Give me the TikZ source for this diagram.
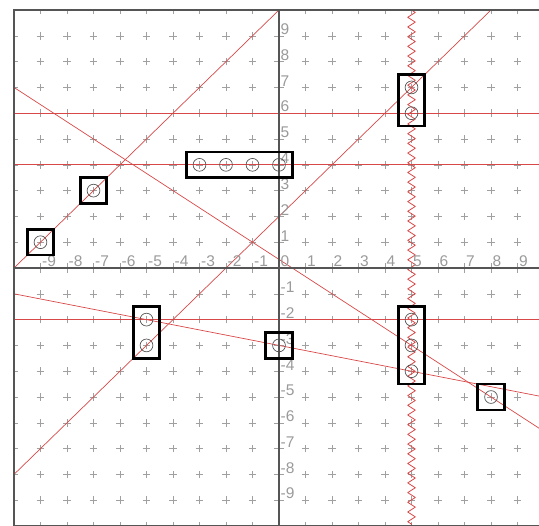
\documentclass[tikz,border=0pt]{standalone}
\usepackage{fontspec}
\setmainfont{Liberation Sans}
\usetikzlibrary{decorations.pathmorphing}
\definecolor{axisgray}{HTML}{555555}
\definecolor{gridgray}{HTML}{A0A0A0}
\definecolor{labelgray}{HTML}{9A9A9A}
\definecolor{plotred}{HTML}{D84848}
\begin{document}
\begin{tikzpicture}[x=26.5pt,y=25.8pt,
  crossmark/.style={gridgray,line width=0.55pt},
  tickmark/.style={gridgray,line width=0.6pt},
  redline/.style={plotred,line width=0.7pt},
  hredline/.style={plotred,line width=1.1pt},
  axisline/.style={axisgray,line width=2.4pt},
  ticklabel/.style={labelgray,font=\fontsize{15.5}{15.5}\selectfont,anchor=south west,inner sep=0pt,xshift=1.5pt,yshift=1pt},
  ptmark/.style={circle,draw=axisgray,line width=0.7pt,minimum size=12.8pt,inner sep=0pt},
  boxframe/.style={draw=black,line width=2.6pt}
]
\useasboundingbox (-10.528,-9.961) rectangle (9.811,10.388);
\begin{scope}
\clip (-10,-10) rectangle (10,10);
\foreach \i in {-10,...,10}{\foreach \j in {-10,...,10}{
  \draw[crossmark] (\i,\j) +(-3.8pt,0pt) -- +(3.8pt,0pt) +(0pt,-3.8pt) -- +(0pt,3.8pt);
}}
% axes
\coordinate (xl) at (-10,0); \coordinate (xr) at (10,0);
\coordinate (yb) at (0,-10); \coordinate (yt) at (0,10);
\foreach \k in {-9,...,9}{
  \draw[tickmark] (\k,0) +(0pt,-5pt) -- +(0pt,5pt);
  \draw[tickmark] (0,\k) +(-5pt,0pt) -- +(5pt,0pt);
}
% red lines
\coordinate (a1) at (-10,6); \coordinate (a2) at (10,6);
\coordinate (b1) at (-10,4); \coordinate (b2) at (10,4);
\coordinate (c1) at (-10,-2); \coordinate (c2) at (10,-2);
\coordinate (d1) at (-10,0); \coordinate (d2) at (0,10);
\coordinate (e1) at (-10,-8); \coordinate (e2) at (8,10);
\coordinate (f1) at (-10,7); \coordinate (f2) at (10,-6.3333);
\coordinate (g1) at (-10,-1); \coordinate (g2) at (10,-5);
\coordinate (s1) at (5,10); \coordinate (s2) at (5,-10);
\draw[hredline] (a1) -- (a2);
\draw[hredline] (b1) -- (b2);
\draw[hredline] (c1) -- (c2);
\draw[redline] (d1) -- (d2);
\draw[redline] (e1) -- (e2);
\draw[redline] (f1) -- (f2);
\draw[redline] (g1) -- (g2);
\draw[redline,line width=0.8pt,line join=round,decorate,decoration={zigzag,segment length=9.7pt,amplitude=3.8pt}] (s1) -- (s2);
\draw[axisline] (xl) -- (xr);
\draw[axisline] (yb) -- (yt);
\end{scope}
\draw[axisline] (-10,-10) rectangle (10,10);
% labels
\foreach \k in {-9,...,9}{
  \node[ticklabel] (lx\k) at (\k,0) {\k};
}
\foreach \k in {-9,...,-1,1,2,...,9}{
  \node[ticklabel] (ly\k) at (0,\k) {\k};
}
% points
\node[ptmark] (p1) at (-9,1) {};
\node[ptmark] (p2) at (-7,3) {};
\node[ptmark] (p3) at (-3,4) {};
\node[ptmark] (p4) at (-2,4) {};
\node[ptmark] (p5) at (-1,4) {};
\node[ptmark] (p6) at (0,4) {};
\node[ptmark] (p7) at (5,7) {};
\node[ptmark] (p8) at (5,6) {};
\node[ptmark] (p9) at (-5,-2) {};
\node[ptmark] (p10) at (-5,-3) {};
\node[ptmark] (p11) at (0,-3) {};
\node[ptmark] (p12) at (5,-2) {};
\node[ptmark] (p13) at (5,-3) {};
\node[ptmark] (p14) at (5,-4) {};
\node[ptmark] (p15) at (8,-5) {};
% boxes
\draw[boxframe] (-9.5,0.5) rectangle (-8.5,1.5);
\draw[boxframe] (-7.5,2.5) rectangle (-6.5,3.5);
\draw[boxframe] (-3.5,3.5) rectangle (0.5,4.5);
\draw[boxframe] (4.5,5.5) rectangle (5.5,7.5);
\draw[boxframe] (-5.5,-3.5) rectangle (-4.5,-1.5);
\draw[boxframe] (-0.5,-3.5) rectangle (0.5,-2.5);
\draw[boxframe] (4.5,-4.5) rectangle (5.5,-1.5);
\draw[boxframe] (7.5,-5.5) rectangle (8.5,-4.5);
\end{tikzpicture}
\end{document}
